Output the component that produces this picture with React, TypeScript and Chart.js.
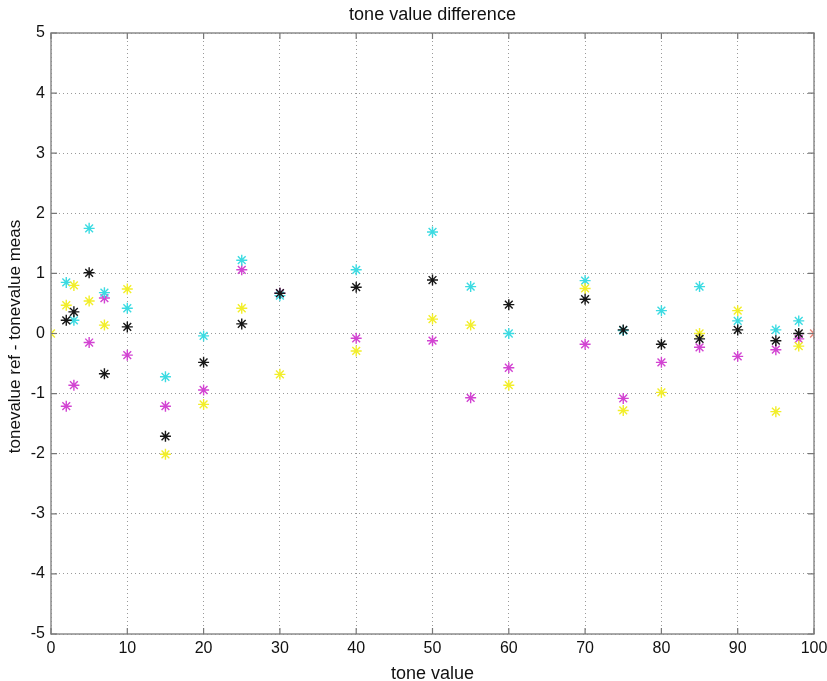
import React, { useEffect, useRef } from 'react';
import { Chart, registerables } from 'chart.js';

Chart.register(...registerables);

const toneValues = [0, 2, 3, 5, 7, 10, 15, 20, 25, 30, 40, 50, 55, 60, 70, 75, 80, 85, 90, 95, 98, 100];
const cyanDiff = [null, 0.85, 0.22, 1.75, 0.68, 0.42, -0.72, -0.04, 1.22, 0.63, 1.06, 1.69, 0.78, 0.0, 0.88, 0.05, 0.38, 0.78, 0.21, 0.06, 0.21, null];
const magentaDiff = [null, -1.21, -0.86, -0.15, 0.59, -0.36, -1.21, -0.94, 1.06, 0.67, -0.08, -0.12, -1.07, -0.57, -0.18, -1.08, -0.48, -0.23, -0.38, -0.27, -0.09, 0.0];
const yellowDiff = [0.0, 0.47, 0.8, 0.54, 0.14, 0.74, -2.01, -1.18, 0.42, -0.68, -0.29, 0.24, 0.14, -0.86, 0.75, -1.28, -0.98, 0.0, 0.38, -1.3, -0.21, null];
const blackDiff = [null, 0.22, 0.36, 1.01, -0.67, 0.11, -1.71, -0.48, 0.16, 0.67, 0.77, 0.89, null, 0.48, 0.57, 0.06, -0.18, -0.09, 0.06, -0.12, 0.0, null];
const xTicks = [0, 10, 20, 30, 40, 50, 60, 70, 80, 90, 100];
const yTicks = [-5, -4, -3, -2, -1, 0, 1, 2, 3, 4, 5];

const titleText = 'tone value difference';
const xTitle = 'tone value';
const yTitle = 'tonevalue ref - tonevalue meas';

const FONT = '"Liberation Sans", Arial, Helvetica, sans-serif';

function toPoints(vals: (number | null)[]) {
  const pts: { x: number; y: number }[] = [];
  vals.forEach((v, i) => {
    if (v !== null) pts.push({ x: toneValues[i], y: v });
  });
  return pts;
}

const boxPlugin = {
  id: 'matlabBox',
  afterDraw(chart: any) {
    const { ctx, chartArea } = chart;
    const { left, right, top, bottom } = chartArea;
    const xs = chart.scales.x;
    const ys = chart.scales.y;
    ctx.save();
    ctx.strokeStyle = '#8c8c8c';
    ctx.lineWidth = 1.5;
    ctx.strokeRect(left, top, right - left, bottom - top);
    ctx.lineWidth = 1.2;
    ctx.strokeStyle = '#777';
    const tl = 6;
    ctx.beginPath();
    xTicks.forEach((t) => {
      const px = xs.getPixelForValue(t);
      ctx.moveTo(px, bottom);
      ctx.lineTo(px, bottom - tl);
      ctx.moveTo(px, top);
      ctx.lineTo(px, top + tl);
    });
    yTicks.forEach((t) => {
      const py = ys.getPixelForValue(t);
      ctx.moveTo(left, py);
      ctx.lineTo(left + tl, py);
      ctx.moveTo(right, py);
      ctx.lineTo(right - tl, py);
    });
    ctx.stroke();
    ctx.fillStyle = '#111';
    ctx.textAlign = 'center';
    ctx.textBaseline = 'alphabetic';
    ctx.font = `18px ${FONT}`;
    ctx.fillText(titleText, (left + right) / 2, 20);
    ctx.fillText(xTitle, (left + right) / 2, 679);
    ctx.font = `17px ${FONT}`;
    ctx.translate(20, (top + bottom) / 2 + 3);
    ctx.rotate(-Math.PI / 2);
    ctx.fillText(yTitle, 0, 0);
    ctx.restore();
  },
};

export default function App() {
  const ref = useRef<HTMLCanvasElement>(null);
  useEffect(() => {
    const canvas = ref.current;
    if (!canvas) return;
    const mk = (label: string, vals: (number | null)[], color: any) => ({
      label,
      data: toPoints(vals),
      pointStyle: 'star',
      pointRadius: 5.5,
      pointBorderWidth: 1.4,
      pointBorderColor: color,
      pointBackgroundColor: color,
      showLine: false,
    });
    const chart = new Chart(canvas, {
      type: 'scatter',
      data: {
        datasets: [
          mk('K', blackDiff, '#161616'),
          mk('Y', yellowDiff, '#f2ee2a'),
          mk('C', cyanDiff, '#3cdbe2'),
          mk('M', magentaDiff, (c: any) => (c.raw && c.raw.x === 100 ? '#e7877a' : '#d244d2')),
        ],
      },
      plugins: [boxPlugin],
      options: {
        animation: false,
        responsive: false,
        maintainAspectRatio: false,
        layout: { padding: { top: 33, right: 13, left: 0, bottom: 0 } },
        plugins: { legend: { display: false }, tooltip: { enabled: false }, title: { display: false } },
        scales: {
          x: {
            type: 'linear',
            min: 0,
            max: 100,
            afterBuildTicks: (s: any) => {
              s.ticks = xTicks.map((v) => ({ value: v }));
            },
            afterFit: (s: any) => {
              s.height = 47;
              s.paddingLeft = 0;
              s.paddingRight = 0;
            },
            ticks: { color: '#111', font: { family: FONT, size: 16 }, padding: 5, maxRotation: 0, autoSkip: false },
            grid: { color: '#9a9a9a', lineWidth: 1, drawTicks: false },
            border: { display: false, dash: [1, 3] },
            title: { display: false },
          },
          y: {
            type: 'linear',
            min: -5,
            max: 5,
            afterBuildTicks: (s: any) => {
              s.ticks = yTicks.map((v) => ({ value: v }));
            },
            afterFit: (s: any) => {
              s.width = 51;
              s.paddingTop = 0;
              s.paddingBottom = 0;
            },
            ticks: { color: '#111', font: { family: FONT, size: 16 }, padding: 6, autoSkip: false },
            grid: { color: '#9a9a9a', lineWidth: 1, drawTicks: false },
            border: { display: false, dash: [1, 3] },
            title: { display: false },
          },
        },
      },
    } as any);
    return () => chart.destroy();
  }, []);
  return (
    <div style={{ position: 'fixed', left: 0, top: 0, width: 827, height: 681, background: '#fff' }}>
      <canvas ref={ref} width={827} height={681} style={{ display: 'block', width: 827, height: 681 }} />
    </div>
  );
}
